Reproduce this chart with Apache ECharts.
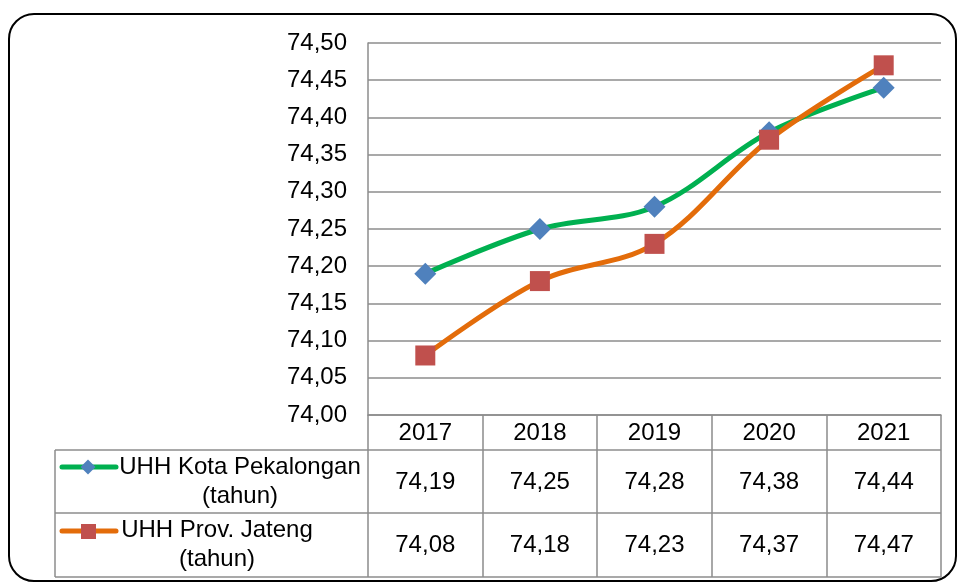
<!DOCTYPE html>
<html>
<head>
<meta charset="utf-8">
<script src="https://cdn.jsdelivr.net/npm/echarts@6/dist/echarts.min.js"></script>
<style>
  html, body { margin: 0; padding: 0; background: #fff; }
  #chart { width: 957px; height: 583px; }
</style>
</head>
<body>
<div id="chart"></div>
<script>
// data
var years = ['2017', '2018', '2019', '2020', '2021'];
var kotaName = 'UHH Kota Pekalongan\n(tahun)';
var kotaValues = [74.19, 74.25, 74.28, 74.38, 74.44];
var jatengName = 'UHH Prov. Jateng\n(tahun)';
var jatengValues = [74.08, 74.18, 74.23, 74.37, 74.47];

function fmt(v) {
  return v.toFixed(2).replace('.', ',');
}

var FONT = '"Liberation Sans", Arial, sans-serif';
var FS = 24;
var gridColor = '#8c8c8c';
// table layout
var tLeft = 55, tRight = 941;
var rowTop1 = 450, rowTop2 = 513, rowBottom = 577;

var myChart = echarts.init(document.getElementById('chart'));

// value rows of the data table drawn as extra category axes
function valueAxis(values, offset) {
  return {
    type: 'category',
    gridIndex: 0,
    position: 'bottom',
    offset: offset,
    data: values.map(fmt),
    axisLine: { show: false },
    axisTick: { show: false },
    splitLine: { show: false },
    axisLabel: { color: '#000', fontSize: FS, fontFamily: FONT, margin: 8, lineHeight: 24 }
  };
}

myChart.setOption({
  animation: false,
  grid: { left: 368, right: 16, top: 43, bottom: 168 },
  xAxis: [
    {
      type: 'category',
      data: years,
      boundaryGap: true,
      axisLine: { show: true, lineStyle: { color: gridColor, width: 1.5 } },
      axisTick: { show: true, length: rowBottom - 415, lineStyle: { color: gridColor, width: 1.5 } },
      axisLabel: { color: '#000', fontSize: FS, fontFamily: FONT, margin: 6, lineHeight: 24 },
      splitLine: { show: false }
    },
    valueAxis(kotaValues, 47),
    valueAxis(jatengValues, 110)
  ],
  yAxis: {
    type: 'value',
    min: 74,
    max: 74.5,
    interval: 0.05,
    axisLine: { show: true, lineStyle: { color: gridColor, width: 1.5 } },
    axisTick: { show: false },
    axisLabel: {
      color: '#000', fontSize: FS, fontFamily: FONT, margin: 21,
      formatter: function (v) { return fmt(v); }
    },
    splitLine: { show: true, lineStyle: { color: gridColor, width: 1.5 } }
  },
  series: [
    {
      name: kotaName,
      type: 'line',
      data: kotaValues,
      smooth: 0.35,
      symbol: 'diamond',
      symbolSize: 22,
      lineStyle: { color: '#00B050', width: 5 },
      itemStyle: { color: '#4F81BD' },
      z: 3
    },
    {
      name: jatengName,
      type: 'line',
      data: jatengValues,
      smooth: 0.35,
      symbol: 'rect',
      symbolSize: 20,
      lineStyle: { color: '#E36C0A', width: 5 },
      itemStyle: { color: '#C0504D' },
      z: 4
    }
  ],
  graphic: [
    // outer frame
    {
      type: 'rect',
      shape: { x: 9, y: 14, width: 947, height: 567, r: 25 },
      style: { fill: 'none', stroke: '#000', lineWidth: 2 },
      silent: true
    },
    // table horizontal lines
    { type: 'line', shape: { x1: tLeft, y1: rowTop1, x2: tRight, y2: rowTop1 }, style: { stroke: gridColor, lineWidth: 1.5 } },
    { type: 'line', shape: { x1: tLeft, y1: rowTop2, x2: tRight, y2: rowTop2 }, style: { stroke: gridColor, lineWidth: 1.5 } },
    { type: 'line', shape: { x1: tLeft, y1: rowBottom, x2: tRight, y2: rowBottom }, style: { stroke: gridColor, lineWidth: 1.5 } },
    { type: 'line', shape: { x1: tLeft, y1: rowTop1, x2: tLeft, y2: rowBottom }, style: { stroke: gridColor, lineWidth: 1.5 } },
    // legend keys
    { type: 'line', shape: { x1: 62, y1: 467, x2: 116, y2: 467 }, style: { stroke: '#00B050', lineWidth: 5, lineCap: 'round' }, z: 10 },
    { type: 'polygon', shape: { points: [[88, 459.5], [95.5, 467], [88, 474.5], [80.5, 467]] }, style: { fill: '#4F81BD' }, z: 11 },
    {
      type: 'text', x: 240, y: 482, z: 10,
      style: { text: kotaName, fill: '#000', fontSize: FS, fontFamily: FONT, align: 'center', verticalAlign: 'middle', lineHeight: 29 }
    },
    { type: 'line', shape: { x1: 62, y1: 531, x2: 116, y2: 531 }, style: { stroke: '#E36C0A', lineWidth: 5, lineCap: 'round' }, z: 10 },
    { type: 'rect', shape: { x: 81, y: 524, width: 15, height: 15 }, style: { fill: '#C0504D' }, z: 11 },
    {
      type: 'text', x: 217, y: 545, z: 10,
      style: { text: jatengName, fill: '#000', fontSize: FS, fontFamily: FONT, align: 'center', verticalAlign: 'middle', lineHeight: 29 }
    }
  ]
});
</script>
</body>
</html>
